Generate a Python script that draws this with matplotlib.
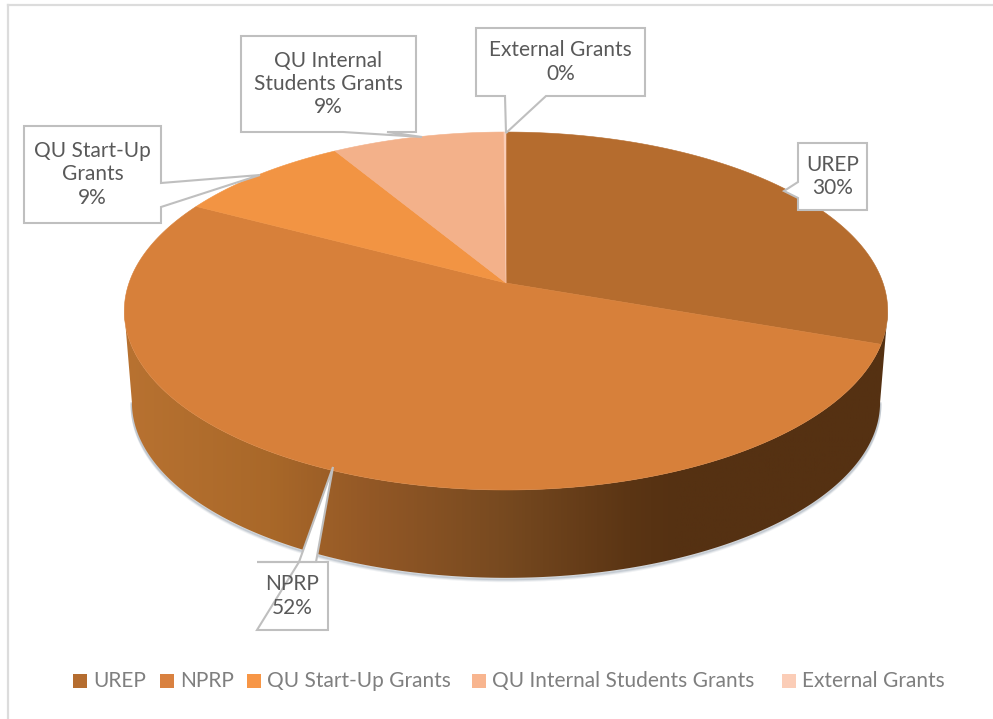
import numpy as np
import matplotlib
matplotlib.use('Agg')
import matplotlib.pyplot as plt
from matplotlib.colors import LinearSegmentedColormap
from matplotlib.patches import Polygon, Rectangle

plt.rcParams['font.family'] = ['Lato', 'DejaVu Sans']

names = ['UREP', 'NPRP', 'QU Start-Up Grants', 'QU Internal Students Grants', 'External Grants']
values = [30.4, 52.4, 8.6, 8.5, 0.1]
top_colors = ['#B56C2E', '#D7803A', '#F29443', '#F3B18A', '#FBCDB7']
legend_colors = ['#B56D2F', '#D98140', '#F79646', '#F8B58F', '#FBCDB7']
text_color = '#595959'

# pie geometry in image pixels, tilted with a bit of perspective
cx, cy = 506, 283
rx, ry = 377, 174.6
persp = 0.1565
depth = 92
bottom_scale = 0.98


def project(theta, scale=1.0, drop=0.0):
    u, v = np.sin(theta), np.cos(theta)
    w = 1 + persp * v
    return np.column_stack([cx + scale * rx * u / w, cy + drop - scale * ry * v / w])


fig = plt.figure(figsize=(9.93, 7.19), dpi=100)
ax = fig.add_axes([0, 0, 1, 1])
ax.axis('off')

# frame, only left and top show up in the picture
ax.plot([8, 8], [719, 5], color='#dcdcdc', lw=1.6, zorder=1)
ax.plot([8, 993], [5, 5], color='#dcdcdc', lw=1.6, zorder=1)

# side of the disc
t = np.linspace(0, 2 * np.pi, 721)
top_edge = project(t)
i_r = np.argmax(top_edge[:, 0])
i_l = np.argmin(top_edge[:, 0])
side_top = top_edge[i_r:i_l + 1]
side_bottom = project(t[i_r:i_l + 1], bottom_scale, depth)
side_path = np.vstack([side_top, side_bottom[::-1]])

# soft shadow under the rim
for off, alpha in [(3.0, 0.12), (2.0, 0.2), (1.0, 0.3)]:
    ax.plot(side_bottom[:, 0], side_bottom[:, 1] + off, color='#8a97a5', lw=2, alpha=alpha, zorder=2)

shade = LinearSegmentedColormap.from_list('shade', [
    (0.00, '#b87231'), (0.19, '#a96829'), (0.32, '#935826'),
    (0.49, '#784a20'), (0.66, '#5b3514'), (0.72, '#553112'), (1.00, '#553112')])
grad = np.linspace(0, 1, 512).reshape(1, -1)
im = ax.imshow(grad, cmap=shade, extent=[124, 890, 600, 280], aspect='auto', zorder=3)
clip = Polygon(side_path, transform=ax.transData, fc='none', ec='none')
ax.add_patch(clip)
im.set_clip_path(clip)

# top of the disc, one wedge per value
start = 0.0
total = sum(values)
for val, col in zip(values, top_colors):
    end = start + val / total * 2 * np.pi
    arc = project(np.linspace(start, end, 200))
    pts = np.vstack([[cx, cy], arc])
    ax.add_patch(Polygon(pts, closed=True, fc=col, ec=col, lw=0.4, zorder=4))
    start = end

# callouts: box (left, right, top, bottom), pointer, text centre
callouts = [
    ((798, 867, 143, 210), [(798, 198), (784, 191), (798, 182)], 'UREP\n30%'),
    ((257, 328, 562, 630), [(299, 562), (333, 467), (316, 562)], 'NPRP\n52%'),
    ((24, 161, 126, 223), [(161, 207), (260, 175), (161, 183)], 'QU Start-Up\nGrants\n9%'),
    ((241, 416, 36, 132), [(343, 132), (422, 137), (387, 132)], 'QU Internal\nStudents Grants\n9%'),
    ((476, 645, 28, 96), [(505, 96), (506, 133), (546, 96)], 'External Grants\n0%'),
]
for (l, r, t0, b), ptr, txt in callouts:
    # walk the box outline and splice the pointer in on the side it leaves from
    if ptr[0][1] == b and ptr[-1][1] == b:
        outline = [(l, t0), (r, t0), (r, b)] + sorted(ptr, key=lambda p: -p[0] if p[1] == b else 0)[:0] + \
                  [max(ptr[0], ptr[2]), ptr[1], min(ptr[0], ptr[2]), (l, b)]
    elif ptr[0][0] == r:
        outline = [(l, t0), (r, t0)] + [ptr[2], ptr[1], ptr[0]] + [(r, b), (l, b)]
    else:
        outline = [(l, t0), (r, t0), (r, b), (l, b)] + ptr
    ax.add_patch(Polygon(outline, closed=True, fc='white', ec='#bfbfbf', lw=1.5, joinstyle='miter', zorder=6))
    ax.text((l + r) / 2, (t0 + b) / 2, txt, ha='center', va='center', fontsize=15,
            color=text_color, linespacing=1.2, zorder=7)

# legend
swatch_x = [73, 160, 247, 472, 782]
for x, name, col in zip(swatch_x, names, legend_colors):
    ax.add_patch(Rectangle((x, 674), 14, 14, fc=col, ec='none', zorder=5))
    ax.text(x + 20, 681, name, ha='left', va='center', fontsize=15, color='#7f7f7f', zorder=5)

ax.set_xlim(0, 993)
ax.set_ylim(719, 0)
fig.savefig('out.png', dpi=100, facecolor='white')
